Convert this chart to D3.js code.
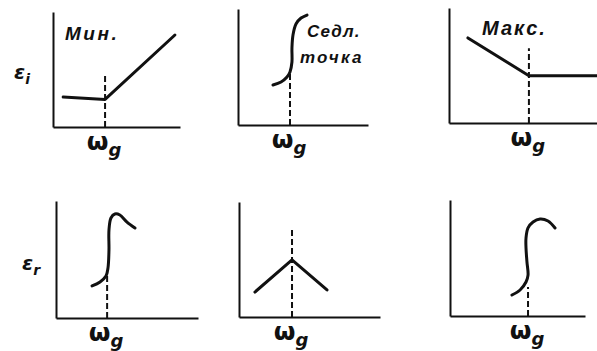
<!DOCTYPE html>
<html>
<head>
<meta charset="utf-8">
<script src="https://cdn.jsdelivr.net/npm/d3@7"></script>
<style>
  html, body { margin: 0; padding: 0; background: #fff; }
  svg { display: block; }
  .note { font-family: "Liberation Sans", Arial, sans-serif; font-style: italic; font-weight: bold; fill: #111; }
  .sym { font-family: "DejaVu Sans", sans-serif; font-weight: bold; fill: #111; }
</style>
</head>
<body>
<svg id="chart" width="597" height="351"></svg>
<script>
// Six schematic panels: top row ε_i(ω), bottom row ε_r(ω), near the critical frequency ω_g.
// All curve values are in arbitrary units on a 0..10 grid per panel.

const panelNames = ["min", "saddle", "max", "peakR", "cuspR", "hookR"];

// ε_i near a minimum
const minCurve = [[0.8, 2.6], [4.1, 2.4], [9.6, 8.0]];
// ε_i near a saddle point
const saddleCurve = [[2.69, 3.45], [3.31, 3.71], [3.77, 4.14], [4.0, 4.57], [4.15, 5.43],
  [4.15, 6.64], [4.23, 7.76], [4.46, 8.71], [4.85, 9.22], [5.31, 9.48]];
// ε_i near a maximum
const maxCurve = [[1.28, 7.4], [5.4, 4.1], [10, 4.1]];
// ε_r under each case
const peakRCurve = [[2.54, 2.74], [3.1, 3.08], [3.52, 3.59], [3.66, 4.27], [3.73, 5.81],
  [3.73, 7.52], [3.87, 8.55], [4.15, 8.89], [4.5, 8.8], [5.0, 8.2], [5.56, 7.69]];
const cuspRCurve = [[1.13, 2.17], [3.76, 4.96], [6.24, 2.35]];
const hookRCurve = [[4.59, 1.81], [5.19, 2.24], [5.63, 2.93], [5.78, 3.53], [5.7, 4.66],
  [5.63, 5.86], [5.63, 6.72], [5.78, 7.59], [6.15, 8.1], [6.67, 8.36], [7.26, 8.19], [7.78, 7.59]];

// position of ω_g and top of its dashed marker, per panel
const omegaG = [4.1, 4.0, 5.4, 3.6, 3.76, 5.78];
const dashTop = [4.7, 4.4, 6.5, 3.9, 7.74, 2.5];

// whether the segments are straight (polyline) or smooth
const smooth = [false, true, false, true, false, true];

const curves = [minCurve, saddleCurve, maxCurve, peakRCurve, cuspRCurve, hookRCurve];

// Panel frames: pixel extents of each axis box
const frames = [
  { x0: 53,  x1: 180, y0: 127, y1: 12 },
  { x0: 238, x1: 368, y0: 125, y1: 9 },
  { x0: 449, x1: 597, y0: 123, y1: 8 },
  { x0: 56,  x1: 198, y0: 318, y1: 201 },
  { x0: 239, x1: 380, y0: 317, y1: 202 },
  { x0: 450, x1: 585, y0: 316, y1: 200 }
];

const svg = d3.select("#chart");

frames.forEach((f, i) => {
  const x = d3.scaleLinear().domain([0, 10]).range([f.x0, f.x1]);
  const y = d3.scaleLinear().domain([0, 10]).range([f.y0, f.y1]);
  const g = svg.append("g").attr("class", "panel-" + panelNames[i]);

  // axes: bare lines, no ticks
  const xAxis = d3.axisBottom(x).tickValues([]).tickSizeOuter(0);
  const yAxis = d3.axisLeft(y).tickValues([]).tickSizeOuter(0);
  g.append("g").attr("transform", `translate(0,${f.y0})`).call(xAxis)
    .select(".domain").attr("stroke", "#111").attr("stroke-width", 2.2);
  g.append("g").attr("transform", `translate(${f.x0},0)`).call(yAxis)
    .select(".domain").attr("stroke", "#111").attr("stroke-width", 2);

  // dashed marker at ω_g
  g.append("line")
    .attr("x1", x(omegaG[i])).attr("x2", x(omegaG[i]))
    .attr("y1", y(0)).attr("y2", y(dashTop[i]))
    .attr("stroke", "#111").attr("stroke-width", 2)
    .attr("stroke-dasharray", "6,3");

  // curve
  const line = d3.line()
    .x(d => x(d[0])).y(d => y(d[1]))
    .curve(smooth[i] ? d3.curveCatmullRom.alpha(0.5) : d3.curveLinear);
  g.append("path").datum(curves[i])
    .attr("d", line)
    .attr("fill", "none").attr("stroke", "#111")
    .attr("stroke-width", 3).attr("stroke-linejoin", "round").attr("stroke-linecap", "round");

  // ω_g label under the axis
  const lab = g.append("text").attr("class", "sym")
    .attr("x", x(omegaG[i]) - 1).attr("y", f.y0 + 23)
    .attr("text-anchor", "middle").style("font-size", "25px");
  lab.append("tspan").text("ω");
  lab.append("tspan").attr("dy", 6).style("font-size", "18px").style("font-style", "italic").text("g");
});

// row labels
const rowLabels = [
  { base: "ε", sub: "i", x: 14, y: 79 },
  { base: "ε", sub: "r", x: 22, y: 270 }
];
rowLabels.forEach(r => {
  const t = svg.append("text").attr("class", "sym")
    .attr("x", r.x).attr("y", r.y).style("font-size", "20px").style("font-style", "italic");
  t.append("tspan").text(r.base);
  t.append("tspan").attr("dy", 5).style("font-size", "14px").text(r.sub);
});

// annotations
const notes = [
  { text: "Мин.", x: 65, y: 40, size: 19, spacing: 2.5, weight: "bold" },
  { text: "Седл.", x: 307, y: 37, size: 17, spacing: 1.2, weight: "bold" },
  { text: "точка", x: 300, y: 63, size: 17, spacing: 2.2, weight: "bold" },
  { text: "Макс.", x: 482, y: 35, size: 20, spacing: 2, weight: "bold" }
];
notes.forEach(n => {
  svg.append("text").attr("class", "note")
    .attr("x", n.x).attr("y", n.y)
    .style("font-size", n.size + "px")
    .style("letter-spacing", n.spacing + "px")
    .style("font-weight", n.weight)
    .text(n.text);
});
</script>
</body>
</html>
